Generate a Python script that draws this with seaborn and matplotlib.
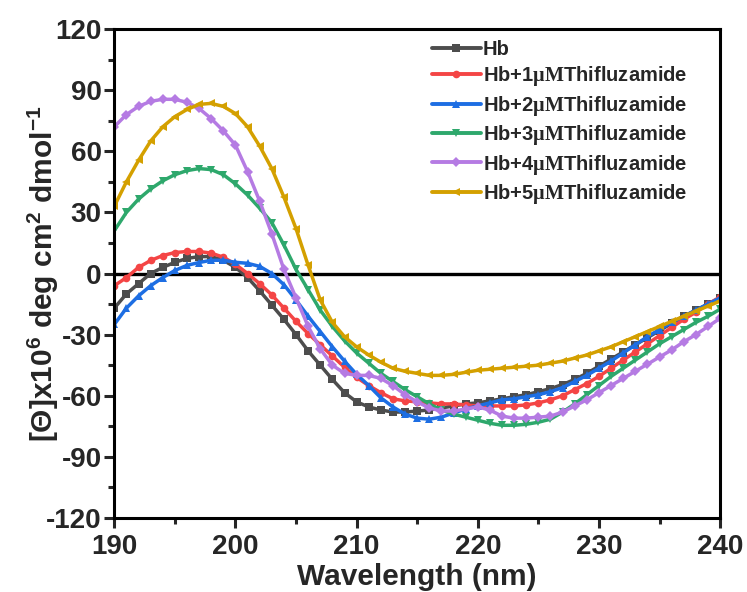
import matplotlib
matplotlib.use("Agg")
import matplotlib.pyplot as plt
from matplotlib.ticker import MultipleLocator
import pandas as pd
import seaborn as sns

# Circular dichroism spectra of haemoglobin with increasing thifluzamide
wavelength = list(range(190, 241))

hb = [-17, -10, -5, 0, 3, 5.5, 7.4, 8.3, 8.3, 6.5,
      3, -2, -8.5, -15.5, -22.5, -30, -38, -45, -52, -58.5,
      -63, -65.5, -67, -68, -68, -67.5, -67, -66, -65, -64,
      -63.5, -62.5, -61.5, -60.5, -59.5, -58, -56.5, -54.5, -52, -49,
      -45.5, -42, -38.5, -35, -31.5, -28, -24.5, -21, -18, -15,
      -12]
hb_1um = [-6, -2, 3, 6.4, 8.8, 10.3, 10.8, 10.8, 10, 8,
          4.5, 0, -5, -10.5, -17, -23.5, -29.5, -35, -40.5, -46,
          -51, -55, -58.5, -61.5, -62.5, -63, -63.5, -64, -64, -64.5,
          -65, -65, -65, -65, -64.5, -63.5, -62, -60, -57, -54,
          -50.5, -46.5, -42.5, -38.5, -34.5, -30.5, -26.5, -22.5, -19, -15,
          -11.5]
hb_2um = [-25, -17, -11, -6, -2, 1.5, 4, 5.4, 6.5, 6.5,
          5.5, 5, 3.5, 0, -5.5, -13, -21, -28.5, -36, -43,
          -49.5, -55, -61, -65.5, -69, -71, -71.5, -70.5, -68.5, -66.5,
          -65, -63.5, -62, -61.5, -60.5, -59.5, -58, -56, -53, -50,
          -46.5, -43, -39, -35, -31, -27.5, -24, -21, -18, -15,
          -12]
hb_3um = [21, 30, 36.5, 41.5, 45.5, 48.5, 50.5, 51.5, 51, 48.5,
          44, 38.5, 32, 25, 14, 2, -8, -18, -26, -33,
          -39, -44, -49, -53, -57, -60.5, -64, -67, -69, -70.5,
          -72, -73.5, -74.5, -74.5, -74, -73, -71.5, -68, -64, -59.5,
          -55, -50.5, -46.5, -42.5, -38.5, -34.5, -31, -27.5, -24, -21,
          -17.5]
hb_4um = [72, 78, 82, 84.5, 85.5, 85.5, 84, 81, 76, 70,
          63, 50, 35.5, 19.5, 2, -12, -26, -37, -45, -49,
          -50, -50, -51.5, -55, -59.5, -63, -66, -67.5, -67.5, -66.5,
          -65.5, -67, -70, -71, -71, -70.5, -70, -68, -65, -62,
          -58.5, -55, -51.5, -48, -44.5, -41, -37.5, -33.5, -30, -26,
          -22]
hb_5um = [33, 45, 55.5, 65, 72, 77, 80.5, 83, 83.5, 82,
          78.5, 72, 62.5, 51.5, 37.5, 22, 4, -13, -24, -31,
          -36, -40, -43.5, -46.5, -48, -49, -50, -50, -49.5, -48.5,
          -47.5, -47, -46.5, -46, -45.5, -45, -44, -43, -41.5, -40,
          -38, -36, -33.5, -31, -28.5, -26, -23.5, -21, -18.5, -16,
          -13.5]

series_names = [
    "Hb",
    r"Hb+1$\mathrm{\mu M}$Thifluzamide",
    r"Hb+2$\mathrm{\mu M}$Thifluzamide",
    r"Hb+3$\mathrm{\mu M}$Thifluzamide",
    r"Hb+4$\mathrm{\mu M}$Thifluzamide",
    r"Hb+5$\mathrm{\mu M}$Thifluzamide",
]
series_values = [hb, hb_1um, hb_2um, hb_3um, hb_4um, hb_5um]
colors = ["#4d4d4d", "#f44545", "#1d6ee3", "#2ea86c", "#b57be3", "#d4a000"]
markers = ["s", "o", "^", "v", "D", "<"]

x_ticks = [190, 200, 210, 220, 230, 240]
y_ticks = [-120, -90, -60, -30, 0, 30, 60, 90, 120]

sns.set_style("ticks")
plt.rcParams.update({
    "font.family": ["Liberation Sans", "DejaVu Sans"],
    "font.weight": "bold",
    "axes.labelweight": "bold",
    "axes.unicode_minus": False,
    "mathtext.fontset": "custom",
    "mathtext.rm": "Liberation Serif",
    "mathtext.bf": "Liberation Sans:bold",
    "mathtext.sf": "Liberation Sans",
    "axes.edgecolor": "black",
    "axes.linewidth": 2.2,
})

df = pd.concat(
    [pd.DataFrame({"Wavelength": wavelength, "Theta": vals, "Sample": name})
     for name, vals in zip(series_names, series_values)],
    ignore_index=True,
)

fig = plt.figure(figsize=(7.47, 5.92), dpi=100)
ax = fig.add_axes([0.153, 0.125, 0.811, 0.826])

ax.axhline(0, color="black", lw=2.4, zorder=1)

sns.lineplot(
    data=df, x="Wavelength", y="Theta",
    hue="Sample", style="Sample",
    hue_order=series_names, style_order=series_names,
    palette=colors, markers=markers, dashes=False,
    linewidth=2.5, markersize=5.5, markeredgewidth=0,
    ax=ax, zorder=2,
)

ax.set_xlim(190, 240)
ax.set_ylim(-120, 120)
ax.set_xticks(x_ticks)
ax.set_yticks(y_ticks)
ax.xaxis.set_minor_locator(MultipleLocator(5))
ax.yaxis.set_minor_locator(MultipleLocator(15))
ax.tick_params(which="major", direction="out", length=7.5, width=2.2,
               labelsize=20, top=False, right=False)
ax.tick_params(axis="x", which="major", pad=4)
ax.tick_params(axis="y", which="major", pad=1.5)
ax.tick_params(which="minor", direction="out", length=4, width=2.2,
               top=False, right=False)
for lbl in ax.get_xticklabels() + ax.get_yticklabels():
    lbl.set_fontweight("bold")

ax.set_xlabel("Wavelength (nm)", fontsize=21.5, fontweight="bold")
ax.set_ylabel(r"[Θ]x10$^{\mathbf{6}}$ deg cm$^{\mathbf{2}}$ dmol$^{\mathbf{-1}}$",
              fontsize=21.5, fontweight="bold")
ax.xaxis.set_label_coords(0.5, -0.093)
ax.yaxis.set_label_coords(-0.088, 0.5)

handles, labels = ax.get_legend_handles_labels()
leg = ax.legend(handles, labels, loc="upper left",
                bbox_to_anchor=((432 - 114) / 606, 0.978),
                frameon=False, fontsize=14.5, handlelength=2.4, handletextpad=0.1,
                labelspacing=0.27, borderaxespad=0, borderpad=0, numpoints=1)
for t in leg.get_texts():
    t.set_fontweight("bold")
for h in leg.legend_handles:
    h.set_linewidth(2.8)

fig.savefig("out.png", dpi=100)
